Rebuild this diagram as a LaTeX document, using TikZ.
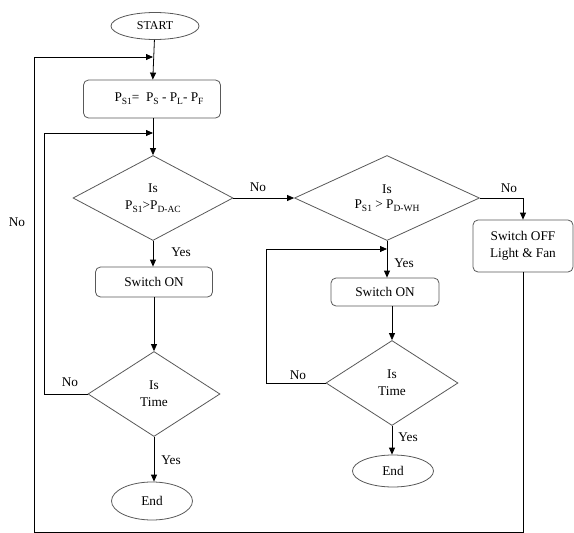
\documentclass[tikz,border=0pt]{standalone}
\usepackage{fontspec}
\setmainfont{Liberation Serif}
\usetikzlibrary{shapes.geometric,arrows.meta}
\newcommand\lowsub[1]{\raisebox{-0.45ex}{\fontsize{9.5}{9.5}\selectfont #1}}
\begin{document}
\begin{tikzpicture}[x=1pt,y=-1pt,
  every node/.style={font=\fontsize{13.3}{17}\selectfont},
  shp/.style={draw=black!65, line width=0.8pt, fill=white},
  term/.style={shp, ellipse, inner sep=0pt},
  proc/.style={shp, rectangle, rounded corners=5pt, inner sep=1pt, align=center},
  dec/.style={shp, diamond, shape aspect=2, inner sep=0pt, align=center},
  arr/.style={line width=0.8pt, -{Triangle[length=7pt,width=6pt]}},
  ln/.style={line width=0.8pt},
  lbl/.style={inner sep=0pt}]
\useasboundingbox (0,0) rectangle (574,533);

% left column
\node[term, minimum width=88, minimum height=27, font=\fontsize{12}{14}\selectfont] (start) at (155,26) {START};
\node[proc, minimum width=137, minimum height=38] (calc) at (152,99) {\hspace{14pt}P\lowsub{S1}= \ P\lowsub{S} - P\lowsub{L}- P\lowsub{F}};
\node[dec, minimum width=160, minimum height=85] (d1) at (153,198) {Is\\P\lowsub{S1}{>}P\lowsub{D-AC}};
\node[proc, minimum width=117, minimum height=30] (on1) at (154,282) {Switch ON};
\node[dec, minimum width=132, minimum height=85] (d3) at (154,394) {Is\\Time};
\node[term, minimum width=81, minimum height=38] (end1) at (152,501) {End};

% right part
\node[dec, minimum width=185, minimum height=85] (d2) at (387,198) {Is\\[-2pt]P\lowsub{S1} > P\lowsub{D-WH}};
\node[proc, minimum width=100, minimum height=52] (off) at (523,246) {Switch OFF\\Light \& Fan};
\node[proc, minimum width=108, minimum height=28] (on2) at (385,292) {Switch ON};
\node[dec, minimum width=132, minimum height=85] (d4) at (392,383) {Is\\Time};
\node[term, minimum width=81, minimum height=32] (end2) at (393,471) {End};

% coordinates for loops
\coordinate (la) at (153,57);
\coordinate (lb) at (153,133);
\coordinate (lc) at (387,249);

% main flow
\draw[arr] (start) -- (calc);
\draw[arr] (calc.south -| lb) -- (d1.north);
\draw[arr] (d1.south) -- (on1.north -| d1.south);
\draw[arr] (on1.south -| d3.north) -- (d3.north);
\draw[arr] (d3.south) -- (end1.north -| d3.south);
\draw[arr] (d1.east) -- (d2.west);
\draw[arr] (d2.east) -| (off.north);
\draw[arr] (d2.south) -- (on2.north -| d2.south);
\draw[arr] (on2.south -| d4.north) -- (d4.north);
\draw[arr] (d4.south) -- (end2.north -| d4.south);

% loops
\draw[arr] (d3.west) -- (44,394) -- (44,133) -- (lb);
\draw[arr] (d4.west) -- (266,383) -- (266,249) -- (lc);
\draw[arr] (off.south) -- (523,532) -- (34,532) -- (34,57) -- (la);

% labels
\node[lbl] at (258,187) {No};
\node[lbl] at (509,188) {No};
\node[lbl] at (17,222) {No};
\node[lbl] at (70,382) {No};
\node[lbl] at (298,375) {No};
\node[lbl] at (181,252) {Yes};
\node[lbl] at (171,460) {Yes};
\node[lbl] at (404,263) {Yes};
\node[lbl] at (408,437) {Yes};
\end{tikzpicture}
\end{document}
